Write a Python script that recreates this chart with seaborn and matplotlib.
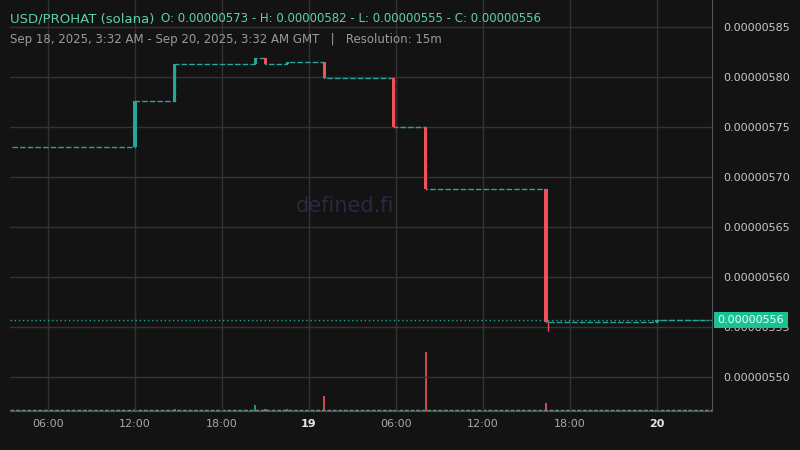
import pandas as pd
import seaborn as sns
import matplotlib.pyplot as plt

# price change events: hours since Sep 18 00:00 GMT
event_hours = [3.53, 12.0, 14.75, 20.3, 21.0, 22.5, 25.05, 29.85, 32.05, 40.35, 48.0]
opens = [573.0, 573.0, 577.6, 581.3, 581.9, 581.3, 581.5, 579.9, 575.0, 568.8, 555.5]
closes = [573.0, 577.6, 581.3, 581.9, 581.3, 581.5, 579.9, 575.0, 568.8, 555.5, 555.7]
volumes = [0.2, 0.5, 0.5, 1.2, 0.4, 0.4, 3.0, 0.3, 12.0, 1.7, 0.3]
end_hour = 51.6
last_price = 555.7
last_label = "0.00000556"

tick_hours = [6, 12, 18, 24, 30, 36, 42, 48]
tick_labels = ["06:00", "12:00", "18:00", "19", "06:00", "12:00", "18:00", "20"]
price_ticks = [550, 555, 560, 565, 570, 575, 580, 585]

UP, DOWN, BG, GRID = "#26a69a", "#f0525d", "#131313", "#333333"

df = pd.DataFrame({"hour": event_hours + [end_hour], "close": closes + [closes[-1]]})

sns.set_style("dark")
fig = plt.figure(figsize=(8, 4.5), dpi=100, facecolor=BG)
ax = fig.add_axes([10 / 800, 39 / 450, 702 / 800, 411 / 450], facecolor=BG)
axv = ax.twinx()
axv.set_zorder(0)
ax.set_zorder(1)
ax.patch.set_visible(False)

# step line of flat 15m candles
sns.lineplot(data=df, x="hour", y="close", ax=ax, drawstyle="steps-post",
             color=UP, lw=1, ls=(0, (4, 1.5)), zorder=2)
# candle bodies
for h, o, c in zip(event_hours, opens, closes):
    if o == c:
        continue
    col = UP if c > o else DOWN
    ax.bar(h, abs(c - o), bottom=min(o, c), width=0.22, color=col,
           edgecolor="none", linewidth=0, zorder=3)
ax.vlines(40.5, 554.6, 555.6, color=DOWN, lw=1, zorder=3)

# volume
vcol = [UP if c >= o else DOWN for o, c in zip(opens, closes)]
axv.bar(event_hours, volumes, width=0.15, color=vcol, alpha=0.85,
        edgecolor="none", linewidth=0)
axv.axhline(0.15, color="#6a8f87", lw=1, ls=(0, (3, 1)))
axv.set_ylim(0, max(volumes) * 411 / 59)
axv.set_yticks([])
axv.grid(False)

ax.axhline(last_price, color=UP, lw=1, ls=(0, (1, 2)), zorder=2)

ax.set_xlim(3.38, end_hour + 0.2)
ax.set_ylim(546.6, 587.7)
ax.set_xticks(tick_hours)
ax.set_xticklabels(tick_labels)
for lbl, t in zip(ax.get_xticklabels(), tick_labels):
    bold = len(t) == 2
    lbl.set_color("#e6e6e6" if bold else "#a8a8a8")
    lbl.set_fontweight("bold" if bold else "normal")
ax.yaxis.tick_right()
ax.set_yticks(price_ticks)
ax.set_yticklabels([f"0.00000{p}" for p in price_ticks], color="#c8c8c8", fontsize=8)
ax.tick_params(axis="x", labelsize=8, length=0, pad=6)
ax.tick_params(axis="y", length=0, pad=8)
ax.grid(True, color=GRID, lw=1)
ax.set_xlabel("")
ax.set_ylabel("")
for s in ["top", "left"]:
    ax.spines[s].set_visible(False)
    axv.spines[s].set_visible(False)
for s in ["right", "bottom"]:
    ax.spines[s].set_color("#555555")
    axv.spines[s].set_visible(False)

ax.text(0.477, 0.50, "defined.fi", transform=ax.transAxes, ha="center", va="center",
        fontsize=15, color="#2a2942", zorder=0)

ax.annotate(last_label, xy=(1.0, last_price), xycoords=("axes fraction", "data"),
            xytext=(4, 0), textcoords="offset points", ha="left", va="center", fontsize=8,
            color="#eafff8", bbox=dict(boxstyle="square,pad=0.3", fc="#19c295", ec="none"),
            annotation_clip=False)

fig.text(10 / 800, 1 - 19 / 450, "USD/PROHAT (solana)", color="#5fcfae", fontsize=9.5, va="center")
fig.text(161 / 800, 1 - 19 / 450,
         "O: 0.00000573 - H: 0.00000582 - L: 0.00000555 - C: 0.00000556",
         color="#5fcfae", fontsize=8.5, va="center")
fig.text(10 / 800, 1 - 40 / 450,
         "Sep 18, 2025, 3:32 AM - Sep 20, 2025, 3:32 AM GMT   |   Resolution: 15m",
         color="#9a9a9a", fontsize=8.5, va="center")

fig.savefig("out.png", dpi=100, facecolor=BG)
